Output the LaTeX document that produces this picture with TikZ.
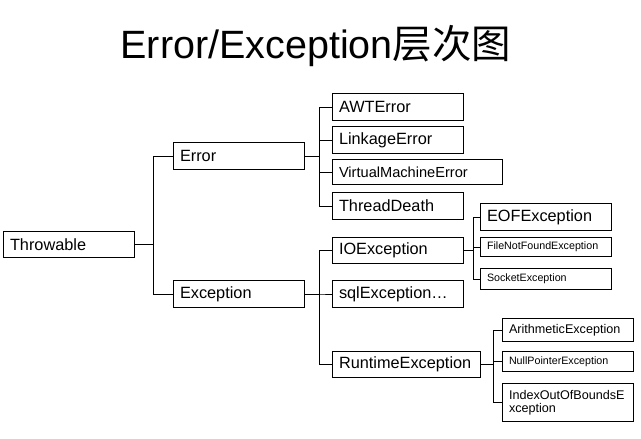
\documentclass[tikz,border=0pt]{standalone}
\usepackage{fontspec}
\setmainfont{Liberation Sans}
\newfontfamily\cjk{Noto Sans CJK SC}
\tikzset{
	klass/.style={draw, line width=1pt, anchor=north west, align=left,
		inner xsep=6.5pt, inner ysep=0pt, minimum height=27pt, text width=118pt,
		font=\fontsize{16.3}{19}\selectfont},
	small/.style={font=\fontsize{10.7}{12}\selectfont},
	mid/.style={font=\fontsize{12.6}{13}\selectfont},
	link/.style={line width=1pt}
}
\begin{document}
\begin{tikzpicture}[x=1pt,y=-1pt]
		\useasboundingbox (0,0) rectangle (641,439);
		\node[anchor=base, font=\fontsize{39.5}{42}\selectfont] (title) at (316,58.3) {Error/Exception{\cjk 层次图}};
		% root and first level
		\node[klass, minimum height=26pt] (throwable) at (3,231) {Throwable};
		\node[klass] (error) at (173,142) {Error};
		\node[klass] (exception) at (173,280) {Exception};
		% Error
		\node[klass] (awt) at (332,93) {AWTError};
		\node[klass] (linkage) at (332,126) {LinkageError};
		\node[klass, minimum height=25pt, text width=157pt, font=\fontsize{14.6}{17}\selectfont] (vm) at (332,159) {VirtualMachineError};
		\node[klass] (death) at (332,192) {ThreadDeath};
		% Exception
		\node[klass, minimum height=26pt] (io) at (332,237) {IOException};
		\node[klass] (sql) at (332,280) {sqlException\ldots};
		\node[klass, minimum height=26pt, text width=135pt] (runtime) at (332,351) {RuntimeException};
		% IOException
		\node[klass] (eof) at (480,203) {EOFException};
		\node[klass, small, minimum height=19pt] (filenf) at (480,237) {FileNotFoundException};
		\node[klass, small, minimum height=21pt] (socket) at (480,268) {SocketException};
		% RuntimeException
		\node[klass, mid, minimum height=23pt] (arith) at (502,318) {ArithmeticException};
		\node[klass, small, minimum height=20pt] (nullp) at (502,351) {NullPointerException};
		\node[klass, mid, minimum height=38pt] (index) at (502,383) {IndexOutOfBoundsE\\xception};
		% connectors
		\foreach \c in {error,exception}
			\draw[link] (throwable.east) -- ++(18,0) |- (\c.west);
		\foreach \c in {awt,linkage,vm,death}
			\draw[link] (error.east) -- ++(14,0) |- (\c.west);
		\foreach \c in {io,sql,runtime}
			\draw[link] (exception.east) -- ++(14,0) |- (\c.west);
		\foreach \c in {eof,filenf,socket}
			\draw[link] (io.east) -- ++(9,0) |- (\c.west);
		\foreach \c in {arith,nullp,index}
			\draw[link] (runtime.east) -- ++(12,0) |- (\c.west);
	\end{tikzpicture}
\end{document}
